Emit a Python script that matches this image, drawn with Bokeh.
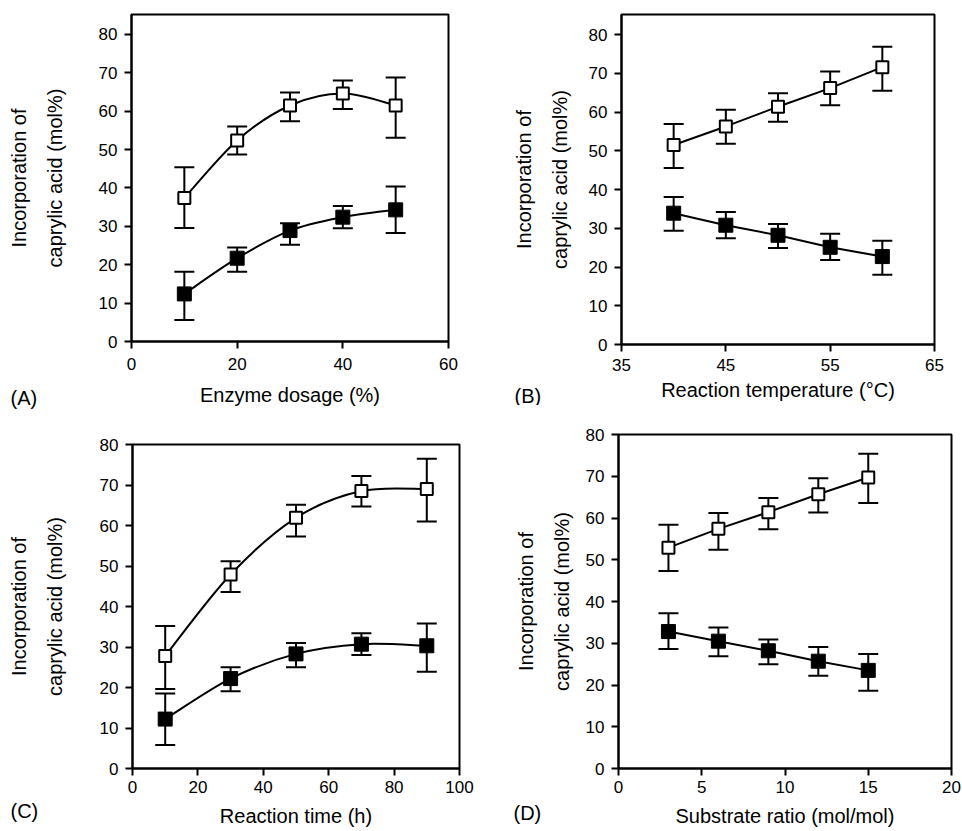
from bokeh.plotting import figure
from bokeh.layouts import row, column
from bokeh.models import ColumnDataSource, Whisker, TeeHead, FixedTicker, Label, Range1d
from bokeh.embed import file_html
from bokeh.resources import INLINE

FONT = "Liberation Sans"
Y_LABEL = "Incorporation of\ncaprylic acid (mol%)"
Y_TICKS = [0, 10, 20, 30, 40, 50, 60, 70, 80]

# ---- Panel A: enzyme dosage ----
a_x = [10, 20, 30, 40, 50]
a_open = [37.4, 52.4, 61.5, 64.6, 61.5]
a_open_lo = [29.6, 48.7, 57.4, 60.6, 53.1]
a_open_hi = [45.4, 56.0, 64.9, 68.0, 68.8]
a_fill = [12.4, 21.7, 28.9, 32.4, 34.3]
a_fill_lo = [5.6, 18.2, 25.2, 29.5, 28.3]
a_fill_hi = [18.2, 24.5, 30.8, 35.3, 40.4]
a_xticks = [0, 20, 40, 60]

# ---- Panel B: reaction temperature ----
b_x = [40, 45, 50, 55, 60]
b_open = [51.5, 56.3, 61.4, 66.2, 71.6]
b_open_lo = [45.6, 51.8, 57.5, 61.8, 65.5]
b_open_hi = [56.9, 60.6, 64.9, 70.5, 76.9]
b_fill = [33.9, 30.8, 28.2, 25.1, 22.7]
b_fill_lo = [29.4, 27.4, 24.9, 21.8, 18.0]
b_fill_hi = [38.1, 34.2, 31.1, 28.6, 26.8]
b_xticks = [35, 45, 55, 65]

# ---- Panel C: reaction time ----
c_x = [10, 30, 50, 70, 90]
c_open = [27.8, 47.9, 61.9, 68.5, 69.0]
c_open_lo = [19.6, 43.6, 57.3, 64.7, 61.0]
c_open_hi = [35.2, 51.2, 65.1, 72.2, 76.5]
c_fill = [12.2, 22.2, 28.3, 30.7, 30.3]
c_fill_lo = [5.8, 19.1, 25.0, 28.0, 23.9]
c_fill_hi = [18.5, 25.0, 31.0, 33.4, 35.8]
c_xticks = [0, 20, 40, 60, 80, 100]

# ---- Panel D: substrate ratio ----
d_x = [3, 6, 9, 12, 15]
d_open = [52.9, 57.4, 61.4, 65.7, 69.7]
d_open_lo = [47.3, 52.4, 57.3, 61.3, 63.6]
d_open_hi = [58.4, 61.2, 64.8, 69.5, 75.4]
d_fill = [32.8, 30.5, 28.2, 25.7, 23.5]
d_fill_lo = [28.6, 26.9, 25.0, 22.2, 18.6]
d_fill_hi = [37.2, 33.8, 30.9, 29.1, 27.4]
d_xticks = [0, 5, 10, 15, 20]


def smooth_segments(xs, ys):
    """Catmull-Rom style smoothing expressed as cubic Bezier segments."""
    n = len(xs)
    out = dict(x0=[], y0=[], x1=[], y1=[], cx0=[], cy0=[], cx1=[], cy1=[])
    for i in range(n - 1):
        i0 = i - 1 if i > 0 else i
        i3 = i + 2 if i + 2 < n else i + 1
        out["x0"].append(xs[i]); out["y0"].append(ys[i])
        out["x1"].append(xs[i + 1]); out["y1"].append(ys[i + 1])
        out["cx0"].append(xs[i] + (xs[i + 1] - xs[i0]) / 6.0)
        out["cy0"].append(ys[i] + (ys[i + 1] - ys[i0]) / 6.0)
        out["cx1"].append(xs[i + 1] - (xs[i3] - xs[i]) / 6.0)
        out["cy1"].append(ys[i + 1] - (ys[i3] - ys[i]) / 6.0)
    return out


def panel(width, height, borders, xr, yr, xticks, xlabel, letter, letter_side, letter_pos,
          xs, series, smooth, ylabel_standoff, xl_standoff, xt_standoff):
    left, right, top, bottom = borders
    p = figure(width=width, height=height, output_backend="svg", toolbar_location=None,
               x_range=Range1d(*xr), y_range=Range1d(*yr),
               min_border_left=left, min_border_right=right,
               min_border_top=top, min_border_bottom=bottom,
               background_fill_color="white", border_fill_color="white")
    p.xgrid.visible = False
    p.ygrid.visible = False
    p.outline_line_color = "black"
    p.outline_line_width = 2
    p.xaxis.ticker = FixedTicker(ticks=xticks)
    p.yaxis.ticker = FixedTicker(ticks=Y_TICKS)
    for ax in (p.xaxis[0], p.yaxis[0]):
        ax.axis_line_width = 2
        ax.major_tick_line_width = 2
        ax.major_tick_out = 7
        ax.major_tick_in = 0
        ax.minor_tick_line_color = None
        ax.major_label_text_font = FONT
        ax.major_label_text_font_size = "17px"
        ax.major_label_text_color = "black"
        ax.axis_label_text_font = FONT
        ax.axis_label_text_font_size = "20px"
        ax.axis_label_text_font_style = "normal"
        ax.axis_label_text_color = "black"
    p.xaxis.major_label_standoff = xt_standoff
    p.yaxis.major_label_standoff = 7
    p.xaxis.axis_label = xlabel
    p.xaxis.axis_label_standoff = xl_standoff
    p.yaxis.axis_label = Y_LABEL
    p.yaxis.axis_label_text_line_height = 1.6
    p.yaxis.axis_label_standoff = ylabel_standoff

    for (ys, lo, hi, filled) in series:
        if smooth:
            src = ColumnDataSource(smooth_segments(xs, ys))
            p.bezier(x0="x0", y0="y0", x1="x1", y1="y1", cx0="cx0", cy0="cy0",
                     cx1="cx1", cy1="cy1", source=src, line_color="black", line_width=2)
        else:
            p.line(xs, ys, line_color="black", line_width=2)
        wsrc = ColumnDataSource(dict(base=xs, lower=lo, upper=hi))
        w = Whisker(base="base", lower="lower", upper="upper", source=wsrc,
                    line_color="black", line_width=2,
                    upper_head=TeeHead(size=20, line_color="black", line_width=2),
                    lower_head=TeeHead(size=20, line_color="black", line_width=2))
        p.add_layout(w)
        if filled:
            p.scatter(xs, ys, marker="square", size=14, fill_color="black",
                      line_color="black", line_width=1)
        else:
            p.scatter(xs, ys, marker="square", size=12, fill_color="white",
                      line_color="black", line_width=2)

    # panel letter: placed in a side panel so that it is not clipped to the frame
    p.add_layout(Label(x=letter_pos[0], y=letter_pos[1], x_units="screen", y_units="screen",
                       text=letter, text_font=FONT, text_font_size="20px",
                       text_color="black", text_baseline="alphabetic"), letter_side)
    return p


pA = panel(481, 415, (131, 33, 14, 74), (0, 60), (0, 85.2), a_xticks,
           "Enzyme dosage (%)", "(A)", "right", (-438, -56), a_x,
           [(a_open, a_open_lo, a_open_hi, False), (a_fill, a_fill_lo, a_fill_hi, True)],
           True, 30, 11, 9)
pB = panel(480, 405, (140, 25, 14, 61), (35, 65), (0, 85.2), b_xticks,
           "Reaction temperature (°C)", "(B)", "right", (-420, -51), b_x,
           [(b_open, b_open_lo, b_open_hi, False), (b_fill, b_fill_lo, b_fill_hi, True)],
           False, 15, 5, 7)
pC = panel(481, 415, (132, 22, 29, 62), (0, 100), (0, 80), c_xticks,
           "Reaction time (h)", "(C)", "above", (-122, -366), c_x,
           [(c_open, c_open_lo, c_open_hi, False), (c_fill, c_fill_lo, c_fill_hi, True)],
           True, 31, 9, 5)
pD = panel(480, 425, (137, 10, 29, 62), (0, 20), (0, 80), d_xticks,
           "Substrate ratio (mol/mol)", "(D)", "above", (-105, -378), d_x,
           [(d_open, d_open_lo, d_open_hi, False), (d_fill, d_fill_lo, d_fill_hi, True)],
           False, 10, 9, 5)

# each figure is wrapped on its own so that their frames are not aligned to each other
left_col = column(column(pA), column(pC))
right_col = column(column(pB), column(pD))
layout = row(left_col, right_col)
open("out.html", "w").write(file_html(layout, INLINE))
